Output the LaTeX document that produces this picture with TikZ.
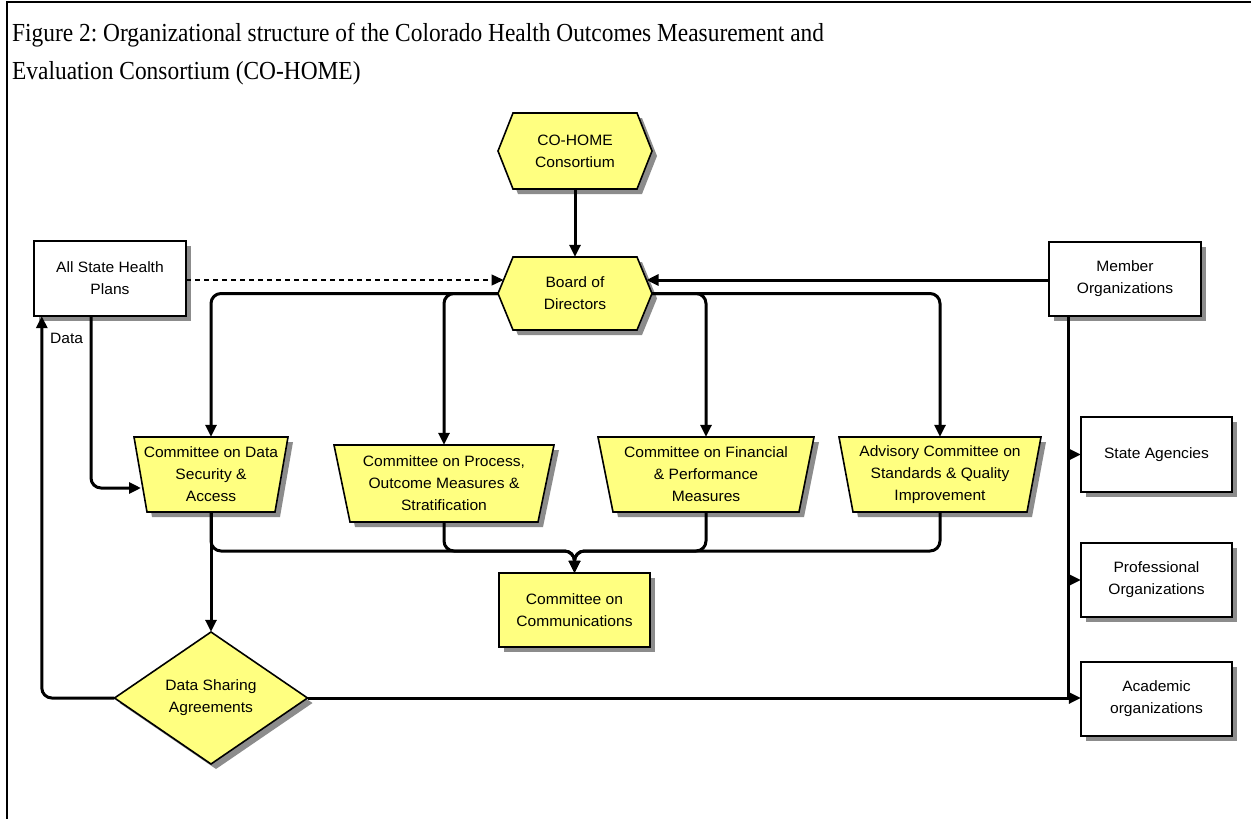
\documentclass[tikz,border=0pt]{standalone}
\usepackage{fontspec}
\setmainfont{Liberation Serif}
\newfontfamily\titlefont[FakeStretch=0.9]{Liberation Serif}
\newfontfamily\diagfont[FakeStretch=1.04]{Liberation Sans}
\usetikzlibrary{arrows.meta,calc}
\definecolor{shapey}{RGB}{255,255,128}
\definecolor{shadowc}{RGB}{140,140,140}
\frenchspacing
\tikzset{
  txt/.style={font=\diagfont\fontsize{15}{22}\selectfont, align=center, inner sep=0pt, draw=none},
  outl/.style={draw=black, line width=1.6pt, line join=miter},
  conn/.style={draw=black, line width=3pt, rounded corners=10pt},
  arr/.style={-{Triangle[length=12pt,width=11pt]}},
  dashconn/.style={draw=black, line width=1.4pt, dash pattern=on 5pt off 4pt},
}
% hexagon: cx cy halfh name text
\newcommand\mkhex[5]{%
  \begin{scope}[shift={(#1,#2)}]
    \fill[shadowc] (-72,5) -- (-57,5-#3) -- (67,5-#3) -- (82,5) -- (67,5+#3) -- (-57,5+#3) -- cycle;
    \path[outl,fill=shapey] (-77,0) -- (-62,-#3) -- (62,-#3) -- (77,0) -- (62,#3) -- (-62,#3) -- cycle;
  \end{scope}
  \node[txt,minimum width=154pt,minimum height={2*#3pt}] (#4) at (#1,#2) {#5};}
% trapezoid: cx cy halftop halfbottom halfh name text
\newcommand\mktrap[7]{%
  \begin{scope}[shift={(#1,#2)}]
    \fill[shadowc] (-#3+5,-#5+5) -- (#3+5,-#5+5) -- (#4+5,#5+5) -- (-#4+5,#5+5) -- cycle;
    \path[outl,fill=shapey] (-#3,-#5) -- (#3,-#5) -- (#4,#5) -- (-#4,#5) -- cycle;
  \end{scope}
  \node[txt,minimum width={2*#3pt},minimum height={2*#5pt}] (#6) at (#1,#2) {#7};}
% rectangle: cx cy halfw halfh fill name text
\newcommand\mkrect[7]{%
  \begin{scope}[shift={(#1,#2)}]
    \fill[shadowc] (-#3+5,-#4+5) rectangle (#3+5,#4+5);
    \path[outl,fill=#5] (-#3,-#4) rectangle (#3,#4);
  \end{scope}
  \node[txt,minimum width={2*#3pt},minimum height={2*#4pt}] (#6) at (#1,#2) {#7};}
% diamond: cx cy halfw halfh name text
\newcommand\mkdiam[6]{%
  \begin{scope}[shift={(#1,#2)}]
    \fill[shadowc] (-#3+5,5) -- (5,-#4+5) -- (#3+5,5) -- (5,#4+5) -- cycle;
    \path[outl,fill=shapey] (-#3,0) -- (0,-#4) -- (#3,0) -- (0,#4) -- cycle;
  \end{scope}
  \node[txt,minimum width={2*#3pt},minimum height={2*#4pt}] (#5) at (#1,#2) {#6};}

\begin{document}
\begin{tikzpicture}[x=1pt,y=-1pt]
\useasboundingbox (0,0) rectangle (1251,819);
\fill[white] (0,0) rectangle (1251,819);
\draw[line width=2pt] (7,819) -- (7,2) -- (1251,2);

\node[anchor=north west, align=left, inner sep=0pt, font=\titlefont\fontsize{26}{38}\selectfont] (title) at (12,23)
  {Figure 2: Organizational structure of the Colorado Health Outcomes Measurement and\\Evaluation Consortium (CO-HOME)};

% shapes
\mkhex{575}{151}{38}{coh}{CO-HOME\\Consortium}
\mkhex{575}{293.5}{36.5}{board}{Board of\\Directors}
\mkrect{110}{278.5}{76}{37.5}{white}{asp}{All State Health\\Plans}
\mkrect{1125}{279}{76}{37}{white}{mem}{Member\\Organizations}
\mktrap{211}{474.5}{77}{64}{37.5}{sec}{Committee on Data\\Security \&\\Access}
\mktrap{444}{483.5}{110}{94}{38.5}{proc}{Committee on Process,\\Outcome Measures \&\\Stratification}
\mktrap{706}{474.5}{108}{93}{37.5}{fin}{Committee on Financial\\\& Performance\\Measures}
\mktrap{940}{474.5}{101}{87}{37.5}{adv}{Advisory Committee on\\Standards \& Quality\\Improvement}
\mkrect{574.5}{610}{75.5}{37}{shapey}{comm}{Committee on\\Communications}
\mkdiam{211}{698}{96.5}{66}{dsa}{Data Sharing\\Agreements}
\mkrect{1156.5}{454.5}{75.5}{37.5}{white}{state}{State Agencies}
\mkrect{1156.5}{580}{75.5}{37}{white}{prof}{Professional\\Organizations}
\mkrect{1156.5}{699}{75.5}{37}{white}{acad}{Academic\\organizations}

% helper coordinates
\coordinate (bdin) at (503.5,280);
\coordinate (bdinr) at (646.5,280);
\coordinate (secin) at (141,488);
\coordinate (mrg) at (574.5,551);
\coordinate (bustop) at ([xshift=-57pt]mem.south);

% connectors
\draw[conn,arr] (coh.south) -- (board.north);
\draw[dashconn,arr] (asp.east |- bdin) -- (bdin);
\draw[conn,arr] (mem.west |- bdinr) -- (bdinr);
\draw[conn,arr] (board.west) -| (sec.north);
\draw[conn,arr] (board.west) -| (proc.north);
\draw[conn,arr] (board.east) -| (fin.north);
\draw[conn,arr] (board.east) -| (adv.north);
\draw[conn,arr] ([xshift=-19pt]asp.south) |- (secin);
\draw[conn,arr] (sec.south) -- (dsa.north);
\draw[conn,arr] (sec.south) |- (mrg) -- (comm.north);
\draw[conn,arr] (proc.south) |- (mrg) -- (comm.north);
\draw[conn,arr] (fin.south) |- (mrg) -- (comm.north);
\draw[conn,arr] (adv.south) |- (mrg) -- (comm.north);
\draw[conn,arr] (dsa.west) -| ([xshift=8pt]asp.south west);
\node[txt,anchor=west] (datalbl) at (50,338) {Data};
\draw[conn,arr] (dsa.east) -- (dsa.east -| acad.west);
\draw[conn] (bustop) -- (bustop |- dsa.east);
\draw[conn,arr] (bustop |- state.west) -- (state.west);
\draw[conn,arr] (bustop |- prof.west) -- (prof.west);
\end{tikzpicture}
\end{document}
